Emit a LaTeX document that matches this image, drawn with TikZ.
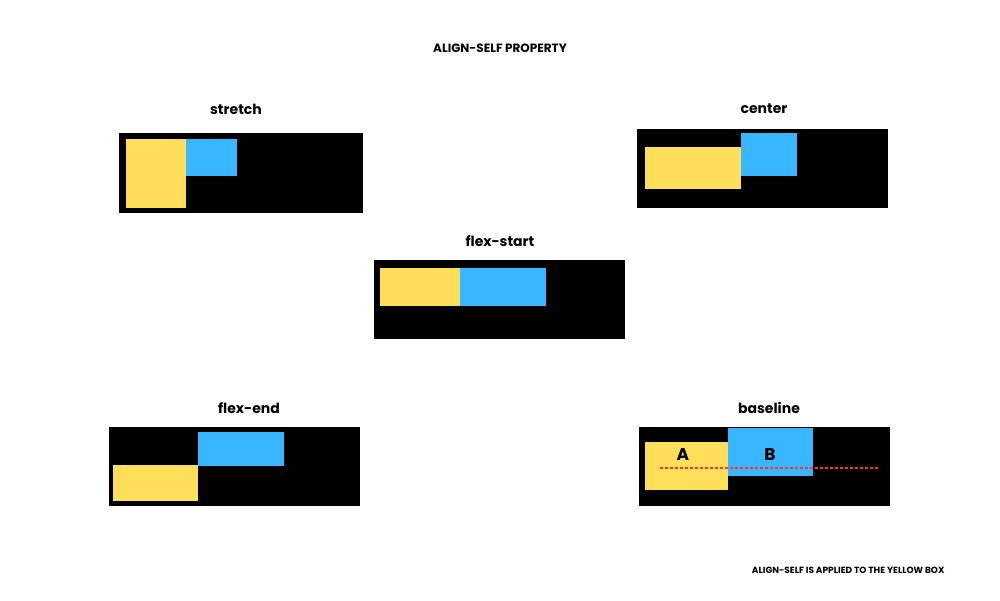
\documentclass[tikz,border=0pt]{standalone}
\usepackage{fontspec}
\setmainfont{Poppins}
\begin{document}
\begin{tikzpicture}[x=1pt,y=-1pt,
  blk/.style={fill=black,inner sep=0,outer sep=0,anchor=north west},
  ylw/.style={fill=yel,inner sep=0,outer sep=0,anchor=north west},
  blu/.style={fill=blu,inner sep=0,outer sep=0,anchor=north west},
  lbl/.style={font=\fontsize{14}{14}\selectfont\bfseries},
  ttl/.style={font=\fontsize{12}{12}\selectfont\bfseries},
  note/.style={font=\fontsize{9}{9}\selectfont\bfseries}]
\definecolor{yel}{HTML}{FFDE59}
\definecolor{blu}{HTML}{38B6FF}
\definecolor{rd}{HTML}{FF3131}
\useasboundingbox[fill=white] (0,0) rectangle (1000,600);
\node[ttl] (title) at (500,48) {ALIGN-SELF PROPERTY};
% stretch
\node[lbl] (l1) at (236,109) {stretch};
\node[blk,minimum width=244,minimum height=80] (b1) at (119,133) {};
\node[ylw,minimum width=60,minimum height=69] (y1) at (126,139) {};
\node[blu,minimum width=51,minimum height=37] (c1) at (186,139) {};
% center
\node[lbl] (l2) at (764,109) {center};
\node[blk,minimum width=251,minimum height=79] (b2) at (637,129) {};
\node[ylw,minimum width=96,minimum height=42] (y2) at (645,147) {};
\node[blu,minimum width=56,minimum height=43] (c2) at (741,133) {};
% flex-start
\node[lbl] (l3) at (500,241) {flex-start};
\node[blk,minimum width=251,minimum height=79] (b3) at (374,260) {};
\node[ylw,minimum width=80,minimum height=38] (y3) at (380,268) {};
\node[blu,minimum width=86,minimum height=38] (c3) at (460,268) {};
% flex-end
\node[lbl] (l4) at (249,408) {flex-end};
\node[blk,minimum width=251,minimum height=79] (b4) at (109,427) {};
\node[ylw,minimum width=85,minimum height=36] (y4) at (113,465) {};
\node[blu,minimum width=86,minimum height=34] (c4) at (198,432) {};
% baseline
\node[lbl] (l5) at (769,408) {baseline};
\node[blk,minimum width=251,minimum height=79] (b5) at (639,427) {};
\node[ylw,minimum width=83,minimum height=48] (y5) at (645,442) {};
\node[blu,minimum width=85,minimum height=48] (c5) at (728,428) {};
\node[lbl,font=\fontsize{17}{17}\selectfont\bfseries] (A) at (683,455) {A};
\node[lbl,font=\fontsize{17}{17}\selectfont\bfseries] (B) at (770,455) {B};
\coordinate (d1) at (660,468);
\coordinate (d2) at (880,468);
\draw[rd,line width=2.2pt,dash pattern=on 2.5pt off 2.5pt] (d1) -- (d2);
\node[note,anchor=east] (n) at (948,570) {ALIGN-SELF IS APPLIED TO THE YELLOW BOX};
\end{tikzpicture}
\end{document}
